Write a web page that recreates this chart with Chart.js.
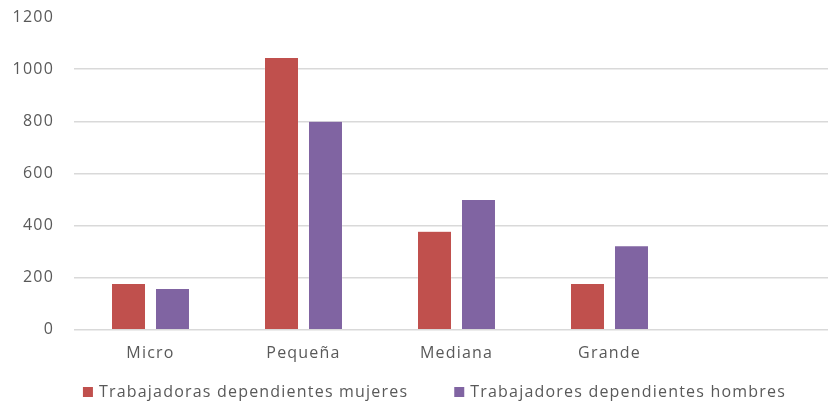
<!DOCTYPE html>
<html>
<head>
<meta charset="utf-8">
<script src="https://cdn.jsdelivr.net/npm/chart.js@4/dist/chart.umd.min.js"></script>
<style>
  html, body { margin: 0; padding: 0; background: #fff; overflow: hidden; }
  #wrap { width: 869px; height: 405px; }
</style>
</head>
<body>
<div id="wrap"><canvas id="barChart"></canvas></div>
<script>
// tamaño de empresa (la quinta categoría queda vacía)
var categorias = ['Micro', 'Pequeña', 'Mediana', 'Grande', ''];
var mujeres = [178, 1045, 378, 178, null];
var hombres = [158, 800, 500, 322, null];

var gris = '#595959';
var fuente = "'Open Sans', 'Noto Sans', sans-serif";
var espaciado = '1.2px';
Chart.defaults.font.family = fuente;
Chart.defaults.color = gris;

// texto algo más abierto, como en la hoja de cálculo
var espaciar = {
    id: 'espaciar',
    beforeUpdate: function (chart) { chart.ctx.letterSpacing = espaciado; },
    beforeDraw: function (chart) { chart.ctx.letterSpacing = espaciado; }
};

// leyenda propia: cuadro + texto, centrada bajo el eje
var leyenda = {
    id: 'leyenda',
    afterDraw: function (chart) {
        var c = chart.ctx;
        var sets = chart.data.datasets;
        var caja = 10, sep = 6, hueco = 46;
        c.save();
        c.letterSpacing = espaciado;
        c.font = '16px ' + fuente;
        c.textBaseline = 'middle';
        var anchos = sets.map(function (d) { return caja + sep + c.measureText(d.label).width; });
        var total = anchos.reduce(function (a, b) { return a + b; }, 0) + hueco * (sets.length - 1);
        var x = chart.width / 2 - total / 2;
        var y = 392;
        sets.forEach(function (d, i) {
            c.fillStyle = d.backgroundColor;
            c.fillRect(x, y - caja / 2, caja, caja);
            c.fillStyle = gris;
            c.fillText(d.label, x + caja + sep, y);
            x += anchos[i] + hueco;
        });
        c.restore();
    }
};

var ctx = document.getElementById('barChart').getContext('2d');
var myChart = new Chart(ctx, {
    type: 'bar',
    data: {
        labels: categorias,
        datasets: [
            {
                label: 'Trabajadoras dependientes mujeres',
                data: mujeres,
                backgroundColor: '#C0504D',
                borderColor: 'rgba(255,255,255,0.6)',
                borderWidth: 0.5,
                categoryPercentage: 0.575,
                barPercentage: 0.773
            },
            {
                label: 'Trabajadores dependientes hombres',
                data: hombres,
                backgroundColor: '#8064A2',
                borderColor: 'rgba(255,255,255,0.6)',
                borderWidth: 0.5,
                categoryPercentage: 0.575,
                barPercentage: 0.773
            }
        ]
    },
    plugins: [espaciar, leyenda],
    options: {
        responsive: true,
        maintainAspectRatio: false,
        animation: false,
        layout: { padding: { top: 17, right: 30, bottom: 28, left: 0 } },
        plugins: {
            tooltip: { enabled: false },
            legend: { display: false }
        },
        scales: {
            x: {
                grid: { display: false, drawTicks: false },
                border: { display: false },
                ticks: { font: { size: 16 }, padding: 14 }
            },
            y: {
                min: 0,
                max: 1200,
                ticks: {
                    stepSize: 200,
                    font: { size: 16 },
                    padding: 20,
                    callback: function (v) { return String(v); }
                },
                border: { display: false },
                grid: {
                    drawTicks: false,
                    lineWidth: 1.5,
                    color: function (c) {
                        return c.tick && c.tick.value === 1200 ? 'rgba(0,0,0,0)' : '#D9D9D9';
                    }
                },
                afterFit: function (s) {
                    s.width = 74;
                    // el margen de las etiquetas no debe empujar el área vertical
                    s.paddingTop = 0;
                    s.paddingBottom = 0;
                }
            }
        }
    }
});
</script>
</body>
</html>
